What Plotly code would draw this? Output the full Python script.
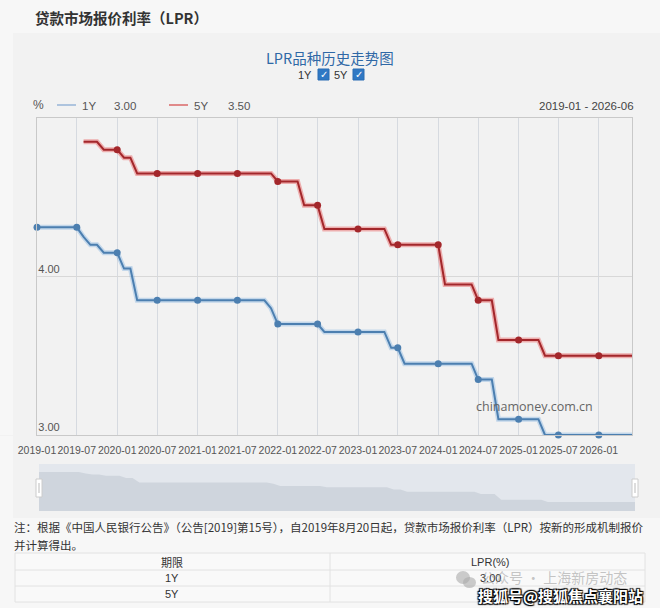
import pandas as pd
import plotly.graph_objects as go

# monthly LPR quotes, 2019-01 .. 2026-06
months = pd.date_range("2019-01-01", "2026-06-01", freq="MS")

lpr_1y = [
    4.31, 4.31, 4.31, 4.31, 4.31, 4.31, 4.31, 4.25, 4.20, 4.20, 4.15, 4.15,  # 2019
    4.15, 4.05, 4.05, 3.85, 3.85, 3.85, 3.85, 3.85, 3.85, 3.85, 3.85, 3.85,  # 2020
    3.85, 3.85, 3.85, 3.85, 3.85, 3.85, 3.85, 3.85, 3.85, 3.85, 3.85, 3.80,  # 2021
    3.70, 3.70, 3.70, 3.70, 3.70, 3.70, 3.70, 3.65, 3.65, 3.65, 3.65, 3.65,  # 2022
    3.65, 3.65, 3.65, 3.65, 3.65, 3.55, 3.55, 3.45, 3.45, 3.45, 3.45, 3.45,  # 2023
    3.45, 3.45, 3.45, 3.45, 3.45, 3.45, 3.35, 3.35, 3.35, 3.10, 3.10, 3.10,  # 2024
    3.10, 3.10, 3.10, 3.10, 3.00, 3.00, 3.00, 3.00, 3.00, 3.00, 3.00, 3.00,  # 2025
    3.00, 3.00, 3.00, 3.00, 3.00, 3.00,                                      # 2026
]
lpr_5y = [
    None, None, None, None, None, None, None, 4.85, 4.85, 4.85, 4.80, 4.80,  # 2019
    4.80, 4.75, 4.75, 4.65, 4.65, 4.65, 4.65, 4.65, 4.65, 4.65, 4.65, 4.65,  # 2020
    4.65, 4.65, 4.65, 4.65, 4.65, 4.65, 4.65, 4.65, 4.65, 4.65, 4.65, 4.65,  # 2021
    4.60, 4.60, 4.60, 4.60, 4.45, 4.45, 4.45, 4.30, 4.30, 4.30, 4.30, 4.30,  # 2022
    4.30, 4.30, 4.30, 4.30, 4.30, 4.20, 4.20, 4.20, 4.20, 4.20, 4.20, 4.20,  # 2023
    4.20, 3.95, 3.95, 3.95, 3.95, 3.95, 3.85, 3.85, 3.85, 3.60, 3.60, 3.60,  # 2024
    3.60, 3.60, 3.60, 3.60, 3.50, 3.50, 3.50, 3.50, 3.50, 3.50, 3.50, 3.50,  # 2025
    3.50, 3.50, 3.50, 3.50, 3.50, 3.50,                                      # 2026
]
tenors = ["1Y", "5Y"]

df = pd.DataFrame({"month": months, "1Y": lpr_1y, "5Y": lpr_5y})
half_year = df[df["month"].dt.month.isin([1, 7])]
ticks = list(half_year["month"][half_year["month"] <= "2026-01-01"])
latest = {"1Y": lpr_1y[-1], "5Y": lpr_5y[-1]}

W, H = 660, 608
def px(x): return x / W
def py(y): return 1 - y / H

PLOT_L, PLOT_R = 37, 632
x_range = [months[0], months[-1]]
# a full-width label axis with the same time scale, so the first label is not clipped
per_px = (x_range[1] - x_range[0]) / (PLOT_R - PLOT_L)
label_range = [x_range[0] - per_px * PLOT_L, x_range[1] + per_px * (W - PLOT_R)]

BLUE, RED = "#4c7fb0", "#a3272b"
fig = go.Figure()

# navigator area
fig.add_trace(go.Scatter(x=df["month"], y=df["1Y"], mode="lines", fill="tozeroy",
                         line=dict(width=0, color="#cfd5dd"), fillcolor="#cfd5dd",
                         xaxis="x2", yaxis="y2", hoverinfo="skip"))

# lines with soft glow
for name, color, glow in [("1Y", BLUE, "rgba(110,165,220,0.35)"), ("5Y", RED, "rgba(230,50,50,0.35)")]:
    fig.add_trace(go.Scatter(x=df["month"], y=df[name], mode="lines",
                             line=dict(color=glow, width=5), hoverinfo="skip"))
    fig.add_trace(go.Scatter(x=df["month"], y=df[name], mode="lines", name=name,
                             line=dict(color=color, width=2)))
    fig.add_trace(go.Scatter(x=half_year["month"], y=half_year[name], mode="markers",
                             marker=dict(color=color, size=7), cliponaxis=False,
                             hoverinfo="skip"))

# invisible carrier for the label axis
fig.add_trace(go.Scatter(x=df["month"], y=df["1Y"], mode="lines", opacity=0,
                         line=dict(width=0), xaxis="x3", yaxis="y4", hoverinfo="skip"))

shapes = [
    # panel
    dict(type="rect", xref="paper", yref="paper", x0=px(13), x1=px(660), y0=py(518), y1=py(33),
         fillcolor="#f2f2f2", line=dict(width=0), layer="below"),
    # navigator box
    dict(type="rect", xref="paper", yref="paper", x0=px(39), x1=px(635), y0=py(511), y1=py(464),
         fillcolor="#e3e7ed", line=dict(width=0), layer="below"),
]
for hx in (39, 635):
    shapes.append(dict(type="rect", xref="paper", yref="paper", x0=px(hx - 3), x1=px(hx + 3),
                       y0=py(497), y1=py(479), fillcolor="#ffffff", line=dict(color="#cccccc", width=1)))
    shapes.append(dict(type="line", xref="paper", yref="paper", x0=px(hx), x1=px(hx),
                       y0=py(493), y1=py(483), line=dict(color="#bbbbbb", width=1)))
# legend samples
shapes.append(dict(type="line", xref="paper", yref="paper", x0=px(57), x1=px(76), y0=py(105), y1=py(105),
                   line=dict(color="#aec4de", width=2)))
shapes.append(dict(type="line", xref="paper", yref="paper", x0=px(169), x1=px(188), y0=py(105), y1=py(105),
                   line=dict(color="#e08a8a", width=2)))
# checkboxes
for bx in (318, 353):
    shapes.append(dict(type="rect", xref="paper", yref="paper", x0=px(bx), x1=px(bx + 11),
                       y0=py(80), y1=py(69), fillcolor="#2f78c4", line=dict(color="#2a6db3", width=1)))
# table
shapes.append(dict(type="rect", xref="paper", yref="paper", x0=px(15), x1=px(645), y0=py(602), y1=py(553),
                   fillcolor="#f9f9f9", line=dict(color="#e2e2e2", width=1), layer="below"))
for ty in (570, 586):
    shapes.append(dict(type="line", xref="paper", yref="paper", x0=px(15), x1=px(645), y0=py(ty), y1=py(ty),
                       line=dict(color="#e2e2e2", width=1), layer="below"))
shapes.append(dict(type="line", xref="paper", yref="paper", x0=px(330), x1=px(330), y0=py(602), y1=py(553),
                   line=dict(color="#e2e2e2", width=1), layer="below"))
# wechat icon of the watermark
shapes.append(dict(type="circle", xref="paper", yref="paper", x0=px(456), x1=px(470), y0=py(584), y1=py(571),
                   fillcolor="rgba(170,170,170,0.6)", line=dict(width=0)))
shapes.append(dict(type="circle", xref="paper", yref="paper", x0=px(463), x1=px(476), y0=py(588), y1=py(577),
                   fillcolor="rgba(170,170,170,0.6)", line=dict(width=0)))

FONT = "Liberation Sans, Noto Sans CJK SC"
CJK = "Noto Sans CJK SC"
def note(x, y, text, size=12, color="#444", anchor="left", family=FONT):
    return dict(xref="paper", yref="paper", x=px(x), y=py(y), text=text, showarrow=False,
                xanchor=anchor, yanchor="middle", font=dict(size=size, color=color, family=family))

annotations = [
    note(33, 17, "<b>贷款市场报价利率（LPR）</b>", 14.5, "#333", family=CJK),
    note(330, 57, "LPR品种历史走势图", 14.5, "#2f68a6", "center", CJK),
    note(305, 75, "1Y", 11, "#333", "center"),
    note(323.5, 74.5, "<b>✓</b>", 10, "#ffffff", "center", "DejaVu Sans"),
    note(341, 75, "5Y", 11, "#333", "center"),
    note(358.5, 74.5, "<b>✓</b>", 10, "#ffffff", "center", "DejaVu Sans"),
    note(31, 105, "%", 12, "#555"),
    note(80, 106, "1Y", 11.5, "#555"),
    note(112, 106, f"{latest['1Y']:.2f}", 11.5, "#555"),
    note(192, 106, "5Y", 11.5, "#555"),
    note(226, 106, f"{latest['5Y']:.2f}", 11.5, "#555"),
    note(636, 106, f"{months[0]:%Y-%m} - {months[-1]:%Y-%m}", 11.5, "#444", "right"),
    note(534, 406, "chinamoney.com.cn", 12.5, "#666", "center", "Open Sans"),
    note(12, 527, "注：根据《中国人民银行公告》（公告[2019]第15号），自2019年8月20日起，贷款市场报价利率（LPR）按新的形成机制报价",
         11.5, "#333", family=CJK),
    note(12, 545, "并计算得出。", 11.5, "#333", family=CJK),
    note(172, 562, "期限", 11, "#333", "center", CJK),
    note(490, 562, "LPR(%)", 11, "#333", "center"),
]
for i, t in enumerate(tenors):
    annotations.append(note(172, 578 + 16 * i, t, 11, "#333", "center"))
    annotations.append(note(490, 578 + 16 * i, f"{latest[t]:.2f}", 11, "#333", "center"))
annotations.append(note(479, 577, "公众号 · 上海新房动态", 14, "rgba(160,160,160,0.6)", family=CJK))
annotations.append(dict(xref="paper", yref="paper", x=px(645), y=py(595), text="<b>搜狐号@搜狐焦点襄阳站</b>",
                        showarrow=False, xanchor="right", yanchor="middle",
                        font=dict(size=15, color="#ffffff", family=CJK,
                                  shadow="1px 1px 1px #000, -1px -1px 1px #000, 1px -1px 1px #000, -1px 1px 1px #000")))

y_range = [3, 5]
fig.update_layout(
    width=W, height=H, autosize=False,
    margin=dict(l=0, r=0, t=0, b=0),
    paper_bgcolor="#f7f7f7", plot_bgcolor="#f2f2f2",
    showlegend=False,
    xaxis=dict(domain=[px(PLOT_L), px(PLOT_R)], range=x_range, tickmode="array", tickvals=ticks,
               showticklabels=False, showgrid=True, gridcolor="#d6dae0", gridwidth=1, automargin=False,
               showline=True, linecolor="#c9c9c9", mirror=True, zeroline=False, ticks=""),
    yaxis=dict(domain=[py(435), py(118)], range=y_range, tickvals=[3, 4], ticktext=["3.00", "4.00"],
               ticklabelposition="inside top", tickfont=dict(size=11, color="#555", family=FONT),
               showgrid=True, gridcolor="#d8d8d8", showline=True, linecolor="#c9c9c9",
               mirror=True, zeroline=False, ticks="", automargin=False),
    xaxis3=dict(domain=[0, 1], range=label_range, anchor="y4", tickmode="array", tickvals=ticks,
                ticktext=[d.strftime("%Y-%m") for d in ticks], tickangle=0, ticklabelstandoff=6,
                ticklabeloverflow="allow", tickfont=dict(size=10.5, color="#555", family=FONT),
                showgrid=False, showline=False, zeroline=False, ticks="", automargin=False),
    yaxis4=dict(domain=[py(436), py(435)], range=[0, 1], anchor="x3", visible=False),
    xaxis2=dict(domain=[px(39), px(635)], range=x_range, anchor="y2", visible=False),
    yaxis2=dict(domain=[py(511), py(464)], range=[2.61, 4.66], anchor="x2", visible=False),
    shapes=shapes,
    annotations=annotations,
)

fig.write_html("out.html", config={"displayModeBar": False},
               post_script="document.body.style.margin='0';document.body.style.overflow='hidden';")
